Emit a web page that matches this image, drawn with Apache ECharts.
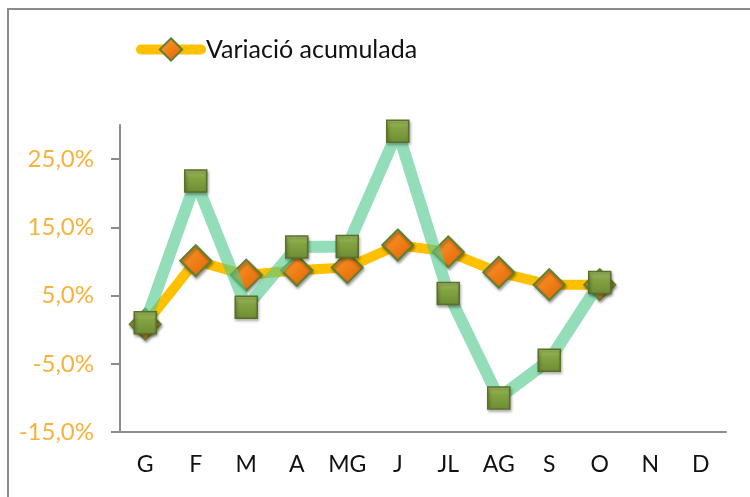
<!DOCTYPE html>
<html>
<head>
    <meta charset="utf-8">
    <title>Variació acumulada</title>
    <script src="https://cdn.jsdelivr.net/npm/echarts@6/dist/echarts.min.js"></script>
    <style>
        html, body { margin: 0; padding: 0; background: #fff; }
    </style>
</head>
<body>
    <div id="main" style="width: 750px;height:497px;"></div>
    <script type="text/javascript">
        // dades
        var mesos = ['G', 'F', 'M', 'A', 'MG', 'J', 'JL', 'AG', 'S', 'O', 'N', 'D'];
        var acumulada = [0.8, 10.1, 8.0, 8.7, 9.1, 12.4, 11.4, 8.4, 6.6, 6.6, null, null];
        var mensual = [1.0, 21.8, 3.3, 12.1, 12.2, 29.1, 5.3, -10.0, -4.5, 6.9, null, null];
        var yTicks = [-15, -5, 5, 15, 25];

        var myChart = echarts.init(document.getElementById('main'));

        var fontFam = 'Lato, "Open Sans", sans-serif';

        var diamondFill = new echarts.graphic.LinearGradient(0, 0, 1, 1, [
            { offset: 0, color: '#F8A23A' },
            { offset: 0.5, color: '#F07F16' },
            { offset: 1, color: '#D9620A' }
        ]);
        var squareFill = new echarts.graphic.LinearGradient(0, 0, 0, 1, [
            { offset: 0, color: '#A9C76A' },
            { offset: 0.35, color: '#84A443' },
            { offset: 1, color: '#6E8C33' }
        ]);

        myChart.setOption({
            animation: false,
            graphic: [{
                type: 'rect',
                shape: { x: 8, y: 9, width: 900, height: 700 },
                style: { fill: 'none', stroke: '#8c8c8c', lineWidth: 2 },
                silent: true
            }],
            legend: {
                data: ['Variació acumulada'],
                left: 131,
                top: 32,
                itemWidth: 60,
                itemHeight: 28,
                itemGap: 4,
                selectedMode: false,
                textStyle: { fontFamily: fontFam, fontSize: 25, color: '#111' },
                lineStyle: { width: 10, cap: 'round' }
            },
            grid: { left: 120, right: 24, top: 125, bottom: 65, containLabel: false },
            xAxis: {
                type: 'category',
                data: mesos,
                boundaryGap: true,
                axisLine: { onZero: false, lineStyle: { color: '#8c8c8c', width: 2 } },
                axisTick: { show: false },
                axisLabel: { margin: 21, fontFamily: fontFam, fontSize: 23, color: '#111' }
            },
            yAxis: {
                type: 'value',
                min: -15,
                max: 30,
                interval: 10,
                splitLine: { show: false },
                axisLine: { show: true, lineStyle: { color: '#8c8c8c', width: 2 } },
                axisTick: { show: true, inside: false, length: 9, lineStyle: { color: '#8c8c8c', width: 2 } },
                axisLabel: {
                    showMaxLabel: false,
                    margin: 26,
                    fontFamily: fontFam,
                    fontSize: 24,
                    color: '#F7B23B',
                    formatter: function (v) {
                        if (yTicks.indexOf(v) < 0) return '';
                        return v.toFixed(1).replace('.', ',') + '%';
                    }
                }
            },
            series: [{
                name: 'Variació acumulada',
                type: 'line',
                data: acumulada,
                z: 2,
                symbol: 'diamond',
                symbolSize: 31,
                lineStyle: { color: '#FFC000', width: 10, cap: 'round' },
                itemStyle: {
                    color: diamondFill,
                    borderColor: '#5E8030',
                    borderWidth: 2,
                    shadowColor: 'rgba(0,0,0,0.35)',
                    shadowBlur: 3,
                    shadowOffsetX: 1,
                    shadowOffsetY: 2
                }
            }, {
                name: 'Variació mensual',
                type: 'line',
                data: mensual,
                z: 3,
                symbol: 'rect',
                symbolSize: 22,
                lineStyle: { color: '#50C88C', opacity: 0.62, width: 12 },
                itemStyle: {
                    color: squareFill,
                    borderColor: '#5A7029',
                    borderWidth: 1.5,
                    shadowColor: 'rgba(0,0,0,0.35)',
                    shadowBlur: 3,
                    shadowOffsetX: 1,
                    shadowOffsetY: 2
                }
            }]
        });
    </script>
</body>
</html>
